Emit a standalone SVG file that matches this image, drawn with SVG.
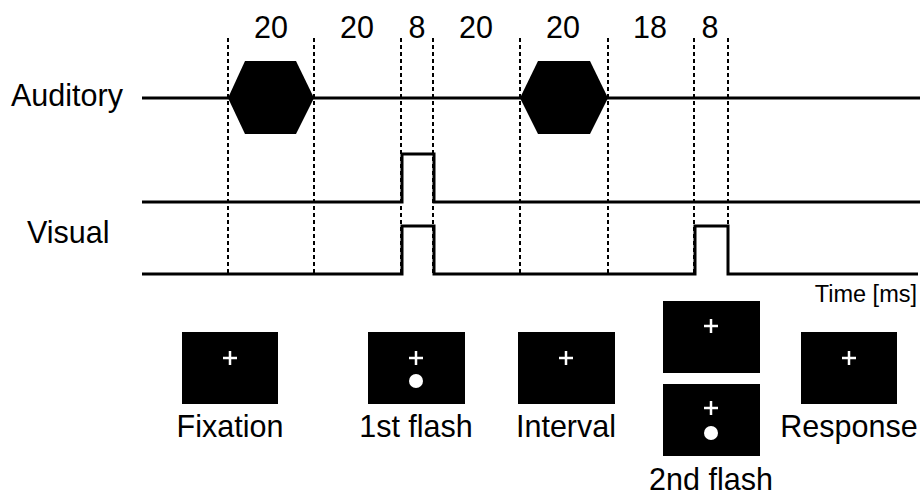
<svg xmlns="http://www.w3.org/2000/svg" width="922" height="498" viewBox="0 0 922 498">
  <style>
    .lbl { font-family: "Liberation Sans", Arial, sans-serif; font-size: 30.5px; fill: #000; }
    .num { text-anchor: middle; }
    .cap { text-anchor: middle; }
    .sig { fill: none; stroke: #000; stroke-width: 3; }
    .guide { fill: none; stroke: #000; stroke-width: 2; stroke-dasharray: 4 3; }
    .screen { fill: #000; }
    .cross { stroke: #fff; stroke-width: 2.5; fill: none; }
    .dot { fill: #fff; }
  </style>
  <defs>
    <g id="crossMark">
      <path class="cross" d="M-7,0 H7 M0,-7 V7"/>
    </g>
  </defs>
  <rect width="922" height="498" fill="#fff"/>

  <!-- row labels -->
  <text class="lbl" x="11" y="106">Auditory</text>
  <text class="lbl" x="27" y="243">Visual</text>

  <!-- durations (ms) -->
  <g id="durations">
    <text class="lbl num" x="271" y="38">20</text>
    <text class="lbl num" x="357" y="38">20</text>
    <text class="lbl num" x="417" y="38">8</text>
    <text class="lbl num" x="476" y="38">20</text>
    <text class="lbl num" x="563" y="38">20</text>
    <text class="lbl num" x="650" y="38">18</text>
    <text class="lbl num" x="710" y="38">8</text>
  </g>

  <!-- connectors: timing guides and signal traces -->
  <g id="connectors">
    <path class="guide" d="M228,38 V274 M314,38 V274 M401,38 V274 M433,38 V274 M520,38 V274 M608,38 V274 M694,38 V274 M728,38 V274"/>
    <path class="sig" d="M142,98 H920"/>
    <path class="sig" d="M142,202 H402 V154 H434 V202 H920"/>
    <path class="sig" d="M142,274 H402 V226 H434 V274 H695 V226 H728 V274 H918"/>
  </g>

  <!-- auditory tones -->
  <g id="tone1"><polygon points="228,98 245,61 296,61 314,98 296,134 245,134" fill="#000"/></g>
  <g id="tone2"><polygon points="520,98 538,61 590,61 608,98 590,134 538,134" fill="#000"/></g>

  <text class="lbl" x="917" y="302" text-anchor="end" style="font-size:23.5px">Time [ms]</text>

  <!-- stimulus screens -->
  <g id="fixation">
    <rect class="screen" x="182" y="332" width="96" height="72"/>
    <use href="#crossMark" x="230" y="358"/>
    <text class="lbl cap" x="230" y="437">Fixation</text>
  </g>
  <g id="flash1">
    <rect class="screen" x="368" y="332" width="97" height="72"/>
    <use href="#crossMark" x="416" y="358"/>
    <circle class="dot" cx="416" cy="381" r="7"/>
    <text class="lbl cap" x="416" y="437">1st flash</text>
  </g>
  <g id="interval">
    <rect class="screen" x="518" y="332" width="97" height="72"/>
    <use href="#crossMark" x="566" y="358"/>
    <text class="lbl cap" x="566" y="437">Interval</text>
  </g>
  <g id="flash2">
    <rect class="screen" x="663" y="301" width="97" height="72"/>
    <use href="#crossMark" x="711" y="326"/>
    <rect class="screen" x="663" y="384" width="97" height="72"/>
    <use href="#crossMark" x="711" y="408"/>
    <circle class="dot" cx="711" cy="433" r="7"/>
    <text class="lbl cap" x="711" y="490">2nd flash</text>
  </g>
  <g id="response">
    <rect class="screen" x="801" y="332" width="96" height="72"/>
    <use href="#crossMark" x="849" y="358"/>
    <text class="lbl cap" x="849" y="437">Response</text>
  </g>
</svg>
